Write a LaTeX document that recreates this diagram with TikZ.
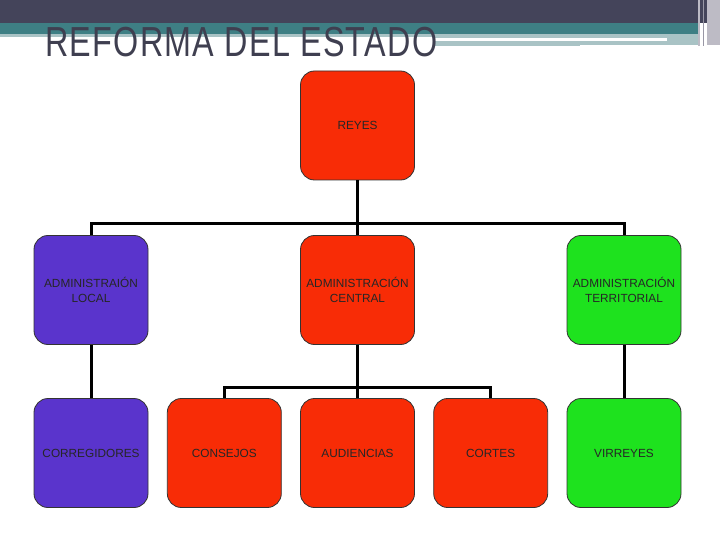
\documentclass[tikz,border=0pt]{standalone}
\usepackage{fontspec}
\setmainfont{Liberation Sans}
\usetikzlibrary{positioning}
\definecolor{HeadDark}{HTML}{44445A}
\definecolor{HeadTeal}{HTML}{3E7F84}
\definecolor{HeadLight}{HTML}{A9C3C5}
\definecolor{HeadStripe}{HTML}{BDBBC5}
\definecolor{TitleInk}{HTML}{3F3F50}
\definecolor{CrownRed}{HTML}{F82C06}
\definecolor{LocalPurple}{HTML}{5A34CC}
\definecolor{TerrGreen}{HTML}{1EE21E}

\begin{document}
\begin{tikzpicture}[
    x=1pt, y=-1pt,
    unit/.style={draw=black!80, line width=0.8pt, fill=#1, rounded corners=14pt,
        minimum width=114pt, minimum height=109pt, inner sep=0pt, align=center,
        text=black!85, font=\fontsize{11.8}{15}\selectfont},
    link/.style={line width=3pt, black}
]
    \useasboundingbox (0,0) rectangle (720,540);

    % Header bands
    \fill[HeadDark] (0,0) rectangle (707,23.5);
    \fill[HeadTeal] (0,23.5) rectangle (700,34);
    \fill[HeadLight] (0,34) rectangle (700,37);
    \fill[HeadLight] (435,37) rectangle (700,46);
    \fill[white] (435,38.5) rectangle (667,41.5);
    \fill[white] (580,45.5) rectangle (700,49);
    \fill[HeadStripe] (707,0) rectangle (720,45);
    \draw[HeadStripe, line width=1.2pt] (699,0) -- (699,46);
    \draw[HeadStripe!70!HeadDark, line width=1pt] (703,0) -- (703,46);

    % Title
    \node[anchor=base west, inner sep=0pt, text=TitleInk] (title) at (45,57)
        {\resizebox{392pt}{\height}{\fontsize{42}{42}\selectfont
         \addfontfeatures{LetterSpace=4}REFORMA DEL ESTADO}};

    % Top level
    \node[unit=CrownRed] (reyes) at (357.5,125.5) {REYES};

    % Second level
    \node[unit=LocalPurple] (local) at (91,290) {ADMINISTRAIÓN\\LOCAL};
    \node[unit=CrownRed] (central) at (357.5,290) {ADMINISTRACIÓN\\CENTRAL};
    \node[unit=TerrGreen] (territorial) at (624,290) {ADMINISTRACIÓN\\TERRITORIAL};

    % Third level
    \node[unit=LocalPurple] (corregidores) at (91,453) {CORREGIDORES};
    \node[unit=CrownRed] (consejos) at (224.3,453) {CONSEJOS};
    \node[unit=CrownRed] (audiencias) at (357.5,453) {AUDIENCIAS};
    \node[unit=CrownRed] (cortes) at (490.7,453) {CORTES};
    \node[unit=TerrGreen] (virreyes) at (624,453) {VIRREYES};

    % Connectors
    \draw[link] (reyes) -- (central);
    \draw[link] (local.north) -- ++(0,-12) -| (territorial.north);
    \draw[link] (local) -- (corregidores);
    \draw[link] (territorial) -- (virreyes);
    \draw[link] (central) -- (audiencias);
    \draw[link] (consejos.north) -- ++(0,-11) -| (cortes.north);
\end{tikzpicture}
\end{document}
